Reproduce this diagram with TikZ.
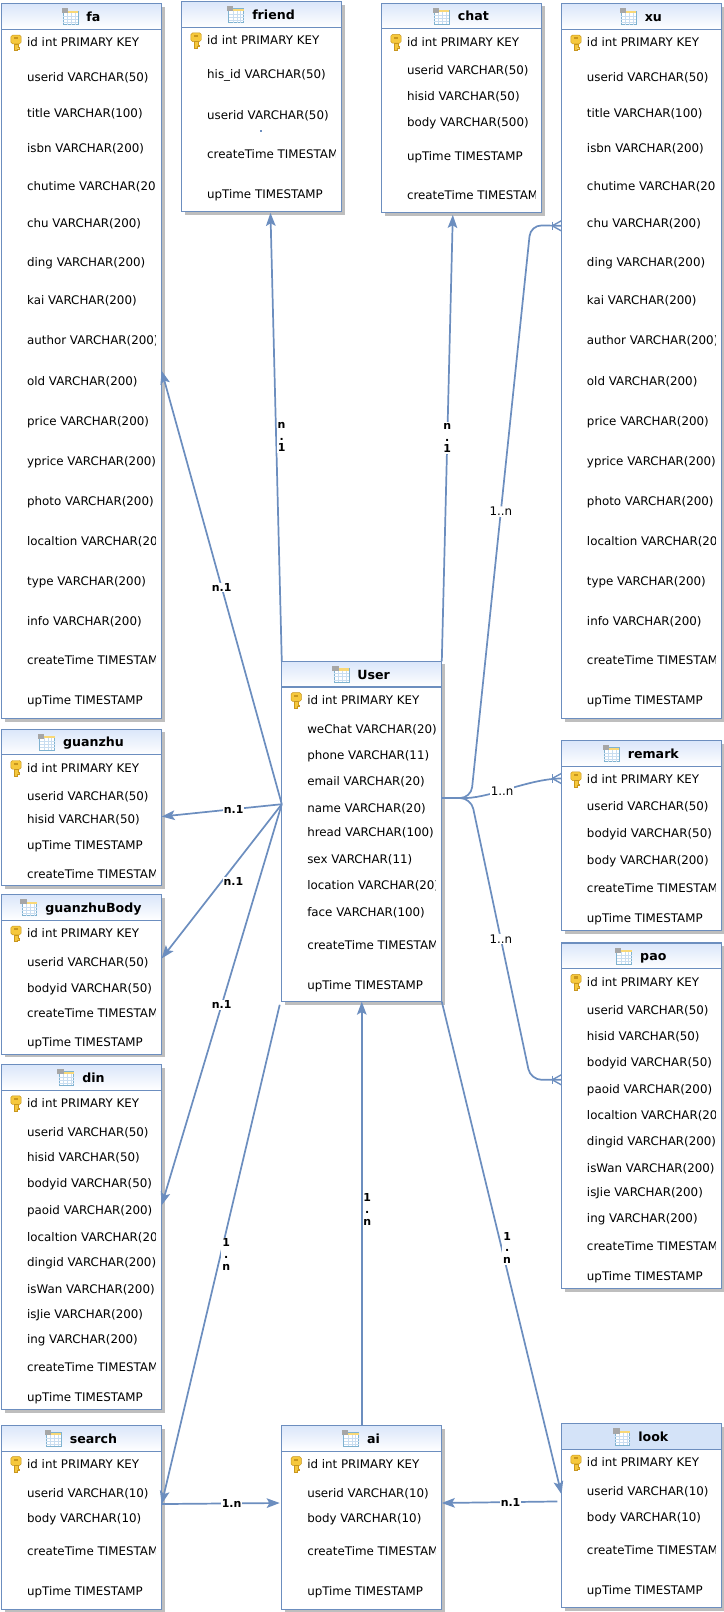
\documentclass[tikz,border=0pt]{standalone}
\usepackage{fontspec}
\setmainfont{DejaVu Sans}
\usepackage{xcolor}
\usepackage{tikz}
\usetikzlibrary{arrows.meta,shadows}

\definecolor{relblue}{HTML}{6C8EBF}
\definecolor{headtop}{HTML}{DAE6FA}
\definecolor{headflat}{HTML}{D4E3F8}
\definecolor{shadowgray}{HTML}{BEBEBE}
\definecolor{keygold}{HTML}{F6C83C}
\definecolor{keydark}{HTML}{C8961E}
\definecolor{iconblue}{HTML}{7FB2D0}
\definecolor{gridblue}{HTML}{C9DDF0}

\tikzset{
  tablebox/.style={draw=relblue, fill=white, line width=.8pt, inner sep=0pt, outer sep=0pt,
    minimum width=155.6*.75pt, anchor=north west,
    copy shadow={draw=none, fill=shadowgray, opacity=1, shadow xshift=2.3pt, shadow yshift=-2.3pt}},
  tablehead/.style={draw=relblue, line width=.8pt, top color=headtop, bottom color=white},
  flathead/.style={draw=relblue, line width=.8pt, fill=headflat},
  tabletitle/.style={inner sep=0pt, font=\fontsize{9.2}{11}\selectfont\bfseries, text height=6.8pt, text depth=1.8pt},
  tablerow/.style={inner sep=0pt, anchor=west, font=\fontsize{8.65}{10}\selectfont, text height=6.8pt, text depth=1.8pt},
  rel/.style={draw=relblue, line width=1.25pt},
  rellabel/.style={fill=white, inner sep=.6pt, font=\fontsize{8}{8.6}\selectfont\bfseries, align=center},
  manylabel/.style={fill=white, inner sep=.6pt, font=\fontsize{8.65}{10}\selectfont},
  >={Stealth[length=9.5pt,width=7pt,inset=2pt]},
  keyicon/.pic={
    \fill[keygold, draw=keydark, line width=.35pt, rounded corners=1.2pt] (-5,-7.5) rectangle (5,1);
    \fill[keygold, draw=keydark, line width=.35pt] (-1.8,1) -- (-1.8,7.5) -- (1,7.5) -- (1,5.8) -- (3,5.8) -- (3,4.4) -- (1.8,4.4) -- (1.8,1) -- cycle;
    \fill[keydark] (-2,-5.5) rectangle (2,-3.5);
  },
  tableicon/.pic={
    \fill[white, draw=iconblue, line width=.5pt] (-6.5,-5.5) rectangle (8,8);
    \fill[keygold!70!white] (-6.5,-5.5) rectangle (8,-3.5);
    \foreach \gridx in {-2.5,1.5,5} \draw[gridblue, line width=.3pt] (\gridx,-3.5) -- (\gridx,8);
    \foreach \gridy in {-.5,2.5,5.5} \draw[gridblue, line width=.3pt] (-6.5,\gridy) -- (8,\gridy);
    \fill[black!35] (-8,-8) rectangle (-2,-3);
  }
}

% name, left, top, height, other rows (offset from top / text)
\newcommand{\dbtable}[6][tablehead]{
  \node[tablebox, minimum height=#5*.75pt] (#2) at (#3,#4) {};
  \path[#1] (#2.north west) rectangle ([shift={(0,25)}]#2.north east);
  \node[tabletitle] (#2Title) at ([shift={(11.5,14)}]#2.north) {#2};
  \pic at ([shift={(-16,-1.5)}]#2Title.west) {tableicon};
  \pic at ([shift={(14,38)}]#2.north west) {keyicon};
  \node[tablerow] (#2Key) at ([shift={(24.5,38.5)}]#2.north west) {id int PRIMARY KEY};
  \begin{scope}
    \clip (#2.north west) rectangle ([shift={(-6,0)}]#2.south east);
    \foreach \rowy/\rowtext in #6
      \node[tablerow] (#2Row\rowy) at ([shift={(24.5,\rowy+.5)}]#2.north west) {\rowtext};
  \end{scope}
}

\newcommand{\longrows}{72/userid VARCHAR(50),107/title VARCHAR(100),141/isbn VARCHAR(200),
  178/chutime VARCHAR(200),214/chu VARCHAR(200),252/ding VARCHAR(200),289/kai VARCHAR(200),
  328/author VARCHAR(200),367/old VARCHAR(200),406/price VARCHAR(200),445/yprice VARCHAR(200),
  484/photo VARCHAR(200),523/localtion VARCHAR(200),562/type VARCHAR(200),601/info VARCHAR(200),
  639/createTime TIMESTAMP,678/upTime TIMESTAMP}
\newcommand{\paorows}{66/userid VARCHAR(50),91/hisid VARCHAR(50),116/bodyid VARCHAR(50),
  142/paoid VARCHAR(200),168/localtion VARCHAR(200),193/dingid VARCHAR(200),219/isWan VARCHAR(200),
  243/isJie VARCHAR(200),268/ing VARCHAR(200),295/createTime TIMESTAMP,324/upTime TIMESTAMP}
\newcommand{\shortrows}{66/userid VARCHAR(10),91/body VARCHAR(10),123/createTime TIMESTAMP,162/upTime TIMESTAMP}

\begin{document}
\begin{tikzpicture}[x=.75pt,y=-.75pt]

  \useasboundingbox (0,0) rectangle (704,1567.5);

  % left column
  \dbtable{fa}{1.6}{3.6}{695}{\longrows}
  \dbtable{guanzhu}{1.6}{709}{152}{{66/userid VARCHAR(50),88/hisid VARCHAR(50),113/upTime TIMESTAMP,141/createTime TIMESTAMP}}
  \dbtable{guanzhuBody}{1.6}{870}{155}{{66/userid VARCHAR(50),91/bodyid VARCHAR(50),116/createTime TIMESTAMP,144/upTime TIMESTAMP}}
  \dbtable{din}{1.6}{1035}{336}{\paorows}
  \dbtable{search}{1.6}{1386}{179}{\shortrows}

  % middle
  \dbtable{friend}{176.7}{1.4}{204.6}{{71.5/his\_id VARCHAR(50),110.5/userid VARCHAR(50),148.5/createTime TIMESTAMP,187.5/upTime TIMESTAMP}}
  \dbtable{chat}{371}{3}{204}{{66/userid VARCHAR(50),91/hisid VARCHAR(50),116/body VARCHAR(500),149/upTime TIMESTAMP,187/createTime TIMESTAMP}}
  \dbtable{User}{274}{643}{331}{{66/weChat VARCHAR(20),92/phone VARCHAR(11),117/email VARCHAR(20),143/name VARCHAR(20),167/hread VARCHAR(100),193/sex VARCHAR(11),218/location VARCHAR(20),244/face VARCHAR(100),276/createTime TIMESTAMP,315/upTime TIMESTAMP}}
  \dbtable{ai}{274}{1386}{179}{\shortrows}

  % right column
  \dbtable{xu}{546}{3.6}{695}{\longrows}
  \dbtable{remark}{546}{720}{185}{{64/userid VARCHAR(50),91/bodyid VARCHAR(50),117/body VARCHAR(200),144/createTime TIMESTAMP,173/upTime TIMESTAMP}}
  \dbtable{pao}{546}{917}{336}{\paorows}
  \dbtable[flathead]{look}{546}{1384.5}{179}{\shortrows}

  \fill[relblue] (253,126.5) rectangle (254.4,127.9);

  \coordinate (UserLeft) at ([shift={(0,-26.5)}]User.west);
  \coordinate (UserRight) at ([shift={(0,-32.5)}]User.east);
  \coordinate (xuFoot) at ([shift={(0,-131.5)}]xu.west);
  \coordinate (remarkFoot) at ([shift={(0,-55.5)}]remark.west);
  \coordinate (paoFoot) at ([shift={(0,-35)}]pao.west);
  \coordinate (xuBendA) at (458,776);
  \coordinate (xuBendB) at (516,219);
  \coordinate (paoBendA) at (458,776);
  \coordinate (paoBendB) at (516,1050);

  \draw[rel,->] (UserLeft) -- node[rellabel] {n.1} ([shift={(0,9.5)}]fa.east);
  \draw[rel,->] (UserLeft) -- node[rellabel,pos=.4] {n.1} ([shift={(0,9)}]guanzhu.east);
  \draw[rel,->] (UserLeft) -- node[rellabel,xshift=8.5pt] {n.1} ([shift={(0,-15.5)}]guanzhuBody.east);
  \draw[rel,->] (UserLeft) -- node[rellabel] {n.1} ([shift={(0,-31)}]din.east);

  \draw[rel,->] (User.north west) -- node[rellabel,xshift=4pt] {n\\.\\1} ([shift={(8.5,1)}]friend.south);
  \draw[rel,->] (User.north east) -- node[rellabel] {n\\.\\1} ([shift={(-8.5,2)}]chat.south);

  \draw[rel,rounded corners=8pt] (UserRight) -- (xuBendA) -- node[manylabel] {1..n} (xuBendB) -- (xuFoot);
  \draw[rel,rounded corners=8pt] (UserRight) -- (paoBendA) -- node[manylabel] {1..n} (paoBendB) -- (paoFoot);
  \draw[rel] (UserRight) -- ++(24,0) .. controls +(25,-1) and +(-30,0) .. node[manylabel,pos=.4] {1..n} (remarkFoot);

  % crow feet on the many side
  \foreach \foot in {xuFoot,remarkFoot,paoFoot} {
    \draw[rel,line width=1pt] ([shift={(-9,0)}]\foot) -- ([shift={(0,-5)}]\foot);
    \draw[rel,line width=1pt] ([shift={(-9,0)}]\foot) -- ([shift={(0,5)}]\foot);
    \draw[rel,line width=1pt] ([shift={(-9,-4)}]\foot) -- ([shift={(-9,4)}]\foot);
  }

  \draw[rel,->] ([shift={(-2,3)}]User.south west) -- node[rellabel,xshift=4pt] {1\\.\\n} ([shift={(0,-13)}]search.east);
  \draw[rel,->] (ai.north) -- node[rellabel,xshift=4pt,pos=.51] {1\\.\\n} (User.south);
  \draw[rel,->] (User.south east) -- node[rellabel,xshift=4pt] {1\\.\\n} ([shift={(0,-21)}]look.west);

  \draw[rel,->] ([shift={(0,-13)}]search.east) -- node[rellabel,xshift=8pt] {1.n} ([shift={(-2,-14)}]ai.west);
  \draw[rel,->] ([shift={(-4,-14)}]look.west) -- node[rellabel,xshift=8pt] {n.1} ([shift={(0,-14)}]ai.east);

\end{tikzpicture}
\end{document}
